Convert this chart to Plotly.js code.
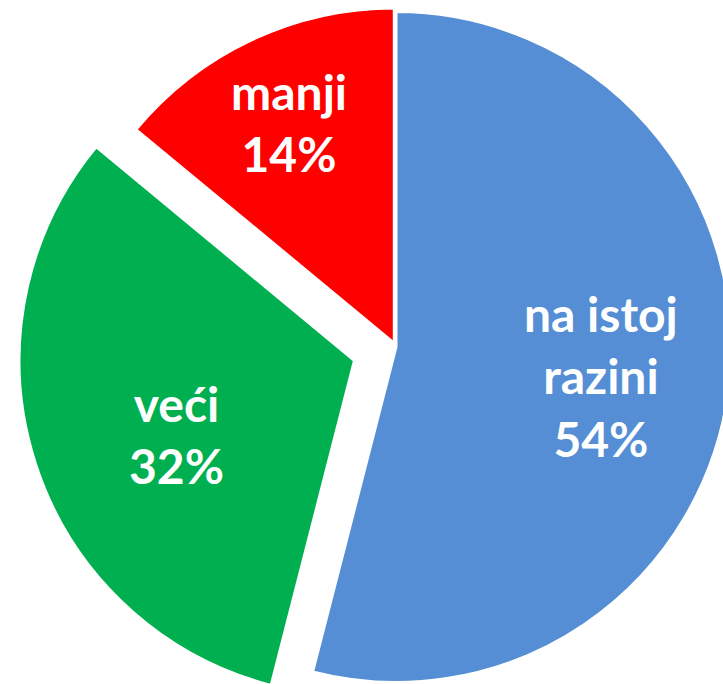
<!DOCTYPE html>
<html>
<head>
<meta charset="utf-8">
<script src="https://cdn.plot.ly/plotly-3.0.1.min.js"></script>
<style>
html, body { margin:0; padding:0; width:723px; height:684px; overflow:hidden; background:#fff; }
#chart { position:absolute; left:17px; top:-32px; width:758px; height:758px; }
</style>
</head>
<body>
<div id="chart"></div>
<script>
const categories = ["na istoj<br>razini", "veći", "manji"];
const shares = [54, 32, 14];
const colors = ["#558ED5", "#00B050", "#FF0000"];
const pulls = [0, 0.13, 0.012];
const labelRadius = [0.63, 0.59, 0.715];   // label distance from slice tip, as fraction of radius
const labelShiftX = [-5, 10, -3];           // fine pixel nudges of the labels
const labelShiftY = [-3, -13, 4];

const W = 758, H = 758;
const total = shares.reduce((a, b) => a + b, 0);
const maxPull = Math.max(...pulls);
const r = Math.min(W, H) / (2 + 2 * maxPull);
const cx = W / 2, cy = H / 2;

const annotations = [];
let cum = 0;
shares.forEach((v, i) => {
  const mid = (cum + v / 2) / total * 2 * Math.PI;   // clockwise from 12 o'clock
  cum += v;
  const dx = Math.sin(mid), dy = -Math.cos(mid);
  const d = (pulls[i] + labelRadius[i]) * r;
  const px = cx + dx * d, py = cy + dy * d;
  annotations.push({
    xref: "paper", yref: "paper",
    x: px / W, y: 1 - py / H,
    xanchor: "center", yanchor: "middle",
    xshift: labelShiftX[i], yshift: labelShiftY[i],
    showarrow: false,
    align: "center",
    text: categories[i] + "<br>" + Math.round(v / total * 100) + "%",
    font: { family: "Lato, 'Open Sans', sans-serif", size: 48, color: "#ffffff", weight: "bold" }
  });
});

Plotly.newPlot("chart", [{
  type: "pie",
  labels: categories,
  values: shares,
  sort: false,
  direction: "clockwise",
  rotation: 0,
  pull: pulls,
  marker: { colors: colors, line: { color: "#ffffff", width: 3 } },
  textinfo: "none",
  textposition: "none",
  hoverinfo: "none",
  showlegend: false
}], {
  margin: { l: 0, r: 0, t: 0, b: 0 },
  paper_bgcolor: "#ffffff",
  showlegend: false,
  width: W,
  height: H,
  annotations: annotations
}, { displayModeBar: false, staticPlot: true });
</script>
</body>
</html>
